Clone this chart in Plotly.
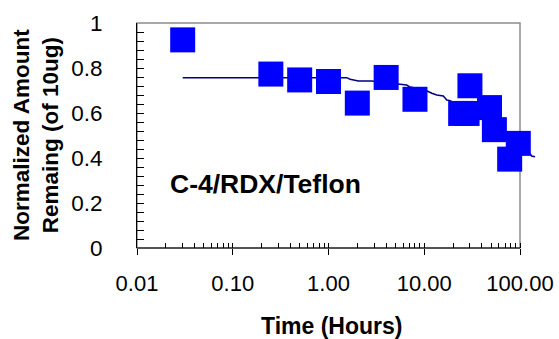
import plotly.graph_objects as go

# ---- data ----
time_h = [0.03, 0.25, 0.5, 1.0, 2.0, 4.0, 8.0, 24, 28, 30, 48, 54, 78, 96]
amount = [0.925, 0.773, 0.747, 0.740, 0.644, 0.758, 0.661, 0.598, 0.598, 0.721, 0.624, 0.526, 0.395, 0.465]

fit_t = [0.03, 1.55, 1.68, 2.05, 2.82, 5.15, 6.56, 6.98, 10.6, 12.0, 13.5, 15.8, 17.2, 18.6,
         25, 35, 50, 70, 100, 127, 132, 143.6]
fit_y = [0.757, 0.757, 0.750, 0.742, 0.742, 0.728, 0.724, 0.717, 0.699, 0.688, 0.680, 0.676, 0.658, 0.655,
         0.63, 0.60, 0.555, 0.50, 0.45, 0.421, 0.409, 0.406]

x_tickvals = [0.01, 0.1, 1, 10, 100]
x_ticktext = ["0.01", "0.10", "1.00", "10.00", "100.00"]
y_tickvals = [0, 0.2, 0.4, 0.6, 0.8, 1.0]
y_ticktext = ["0", "0.2", "0.4", "0.6", "0.8", "1"]

# ---- geometry (pixels) ----
W, H = 559, 339
L, R_AX, R_PLOT, T, B = 137, 520, 545, 23, 248
dom = (R_AX - L) / (R_PLOT - L)          # fraction of plot width covered by 0.01..100
xmax = -2 + 4 / dom                      # log10 of the right edge of the plot area
minor_x = [k * 10 ** e for e in range(-2, 2) for k in range(2, 10)]

FONT = "Liberation Sans, Arial, sans-serif"
fig = go.Figure()
fig.add_trace(go.Scatter(x=fit_t, y=fit_y, mode="lines", xaxis="x", yaxis="y",
                         line=dict(color="#000080", width=1.5), hoverinfo="skip"))
fig.add_trace(go.Scatter(x=time_h, y=amount, mode="markers", xaxis="x2", yaxis="y",
                         marker=dict(symbol="square", size=25, color="#0000FF", line=dict(width=0)),
                         cliponaxis=False))

common_x = dict(type="log", range=[-2, xmax], showgrid=False, zeroline=False, automargin=False,
                showline=False, tickcolor="black", tickwidth=1)
fig.update_layout(
    width=W, height=H, showlegend=False,
    margin=dict(l=L, r=W - R_PLOT, t=T, b=H - B, pad=0, autoexpand=False),
    paper_bgcolor="white", plot_bgcolor="white",
    font=dict(family=FONT, color="black"),
    xaxis=dict(**common_x, domain=[0, 1], anchor="y",
               tickvals=x_tickvals, ticktext=x_ticktext, tickfont=dict(size=22),
               ticks="outside", ticklen=6,
               minor=dict(tickvals=minor_x, ticks="inside", ticklen=5, tickcolor="black", tickwidth=1),
               ticklabelstandoff=10),
    xaxis2=dict(**common_x, overlaying="x", anchor="y",
                tickvals=x_tickvals, showticklabels=False, ticks="inside", ticklen=5),
    yaxis=dict(range=[0, 1], tickvals=y_tickvals, ticktext=y_ticktext, tickfont=dict(size=22.5),
               ticks="inside", ticklen=7, tickcolor="black", tickwidth=1,
               minor=dict(dtick=0.04, ticks="inside", ticklen=7, tickcolor="black", tickwidth=1),
               showline=True, linecolor="black", linewidth=1, showgrid=False, zeroline=False,
               anchor="x", automargin=False, ticklabelstandoff=29),
    shapes=[
        dict(type="rect", xref="x domain", yref="y domain", x0=0, x1=dom, y0=0, y1=1,
             line=dict(color="#8c8c8c", width=1.5), layer="below"),
        dict(type="line", xref="x domain", yref="y domain", x0=0, x1=dom, y0=0, y1=0,
             line=dict(color="black", width=1), layer="below"),
    ],
    annotations=[
        dict(text="<b>C-4/RDX/Teflon</b>", xref="paper", yref="paper",
             x=(168 - L) / (R_PLOT - L), y=(B - 184) / (B - T), xanchor="left", yanchor="middle",
             showarrow=False, font=dict(size=26.5, family=FONT)),
        dict(text="<b>Time (Hours)</b>", xref="paper", yref="paper",
             x=(331 - L) / (R_PLOT - L), y=(B - 326) / (B - T), xanchor="center", yanchor="middle",
             showarrow=False, font=dict(size=23, family=FONT)),
        dict(text="<b>Normalized Amount<br>Remaing (of 10ug)</b>", xref="paper", yref="paper",
             x=(36 - L) / (R_PLOT - L), y=(B - 135) / (B - T), xanchor="center", yanchor="middle",
             textangle=-90, showarrow=False, font=dict(size=22.5, family=FONT)),
    ],
)

fig.write_html("out.html", config={"displayModeBar": False},
               post_script="document.body.style.margin='0';")
